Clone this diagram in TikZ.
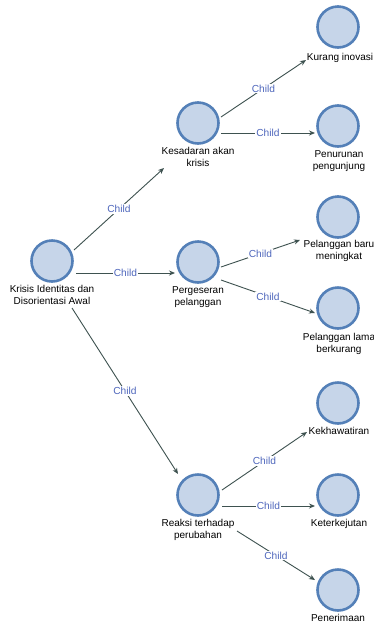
\documentclass[tikz,border=0pt]{standalone}
\usepackage{fontspec}
\setmainfont{Liberation Sans}
\usetikzlibrary{calc,arrows.meta}

\definecolor{nodefill}{RGB}{198,213,233}
\definecolor{nodeline}{RGB}{84,128,184}
\definecolor{edgeline}{RGB}{62,82,80}
\definecolor{childblue}{RGB}{78,102,188}

\tikzset{
  topic/.style={circle, draw=nodeline, fill=nodefill, line width=2.6pt,
    minimum size=41pt, inner sep=0pt},
  caption/.style={anchor=north, inner sep=0pt, align=center,
    font=\fontsize{10}{12}\selectfont, text=black},
  edge/.style={draw=edgeline, line width=0.9pt,
    -{Stealth[length=6pt,width=5pt]}},
  rel/.style={font=\fontsize{10.2}{12}\selectfont, text=childblue,
    fill=white, inner sep=1pt}
}

\begin{document}
\begin{tikzpicture}[x=1pt,y=-1pt]
\useasboundingbox (0,0) rectangle (374,625);
\fill[white] (0,0) rectangle (374,625);

% topics
\node[topic] (root) at (52,261) {};
\node[topic] (kes)  at (198,123) {};
\node[topic] (per)  at (198,262) {};
\node[topic] (rea)  at (198,495) {};
\node[topic] (kur)  at (338,27)  {};
\node[topic] (pen)  at (338,126) {};
\node[topic] (bar)  at (338,217) {};
\node[topic] (lam)  at (338,308) {};
\node[topic] (kek)  at (338,403) {};
\node[topic] (ket)  at (338,495) {};
\node[topic] (ter)  at (338,590) {};

% captions
\node[caption] (rootL) at ($(root)+(0,24)$) {Krisis Identitas dan\\Disorientasi Awal};
\node[caption] (kesL)  at ($(kes)+(0,24)$)  {Kesadaran akan\\krisis};
\node[caption] (perL)  at ($(per)+(0,24)$)  {Pergeseran\\pelanggan};
\node[caption] (reaL)  at ($(rea)+(0,24)$)  {Reaksi terhadap\\perubahan};
\node[caption] (kurL)  at ($(kur)+(2,26)$)  {Kurang inovasi};
\node[caption] (penL)  at ($(pen)+(1,24)$)  {Penurunan\\pengunjung};
\node[caption] (barL)  at ($(bar)+(1,23)$)  {Pelanggan baru\\meningkat};
\node[caption] (lamL)  at ($(lam)+(1,25)$)  {Pelanggan lama\\berkurang};
\node[caption] (kekL)  at ($(kek)+(1,24)$)  {Kekhawatiran};
\node[caption] (ketL)  at ($(ket)+(1,24)$)  {Keterkejutan};
\node[caption] (terL)  at ($(ter)+(0,24)$)  {Penerimaan};

% connectors
\draw[edge] ($(root)+(22,-11)$) -- node[rel]{Child} ($(kes)+(-34,45)$);
\draw[edge] ($(root)+(24,12)$)  -- node[rel]{Child} ($(per)+(-23,11)$);
\draw[edge] ($(root)+(20,47)$)  -- node[rel]{Child} ($(rea)+(-20,-21)$);

\draw[edge] ($(kes)+(23,-6)$)   -- node[rel]{Child} ($(kur)+(-32,33)$);
\draw[edge] ($(kes)+(23,10)$)   -- node[rel]{Child} ($(pen)+(-23,7)$);

\draw[edge] ($(per)+(23,5)$)    -- node[rel]{Child} ($(bar)+(-38,23)$);
\draw[edge] ($(per)+(23,18)$)   -- node[rel]{Child} ($(lam)+(-23,5)$);

\draw[edge] ($(rea)+(24,-5)$)   -- node[rel]{Child} ($(kek)+(-31,29)$);
\draw[edge] ($(rea)+(24,11)$)   -- node[rel]{Child} ($(ket)+(-23,11)$);
\draw[edge] ($(rea)+(39,36)$)   -- node[rel]{Child} ($(ter)+(-23,-10)$);
\end{tikzpicture}
\end{document}
